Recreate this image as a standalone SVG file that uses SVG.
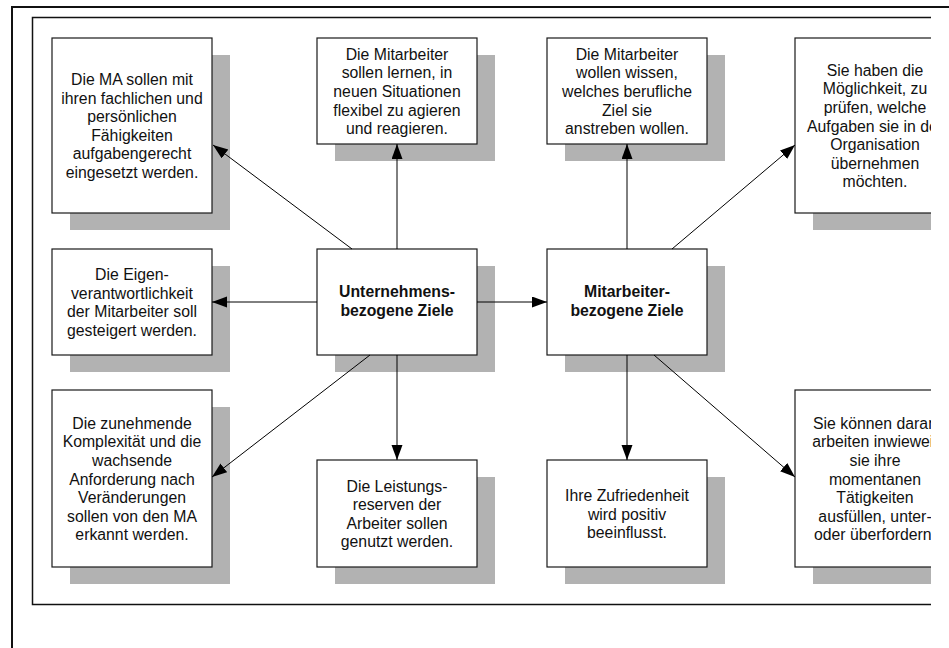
<svg xmlns="http://www.w3.org/2000/svg" width="949" height="648" viewBox="0 0 949 648">
<style>
.box{fill:#ffffff;stroke:#1a1a1a;stroke-width:1.2}
.sh{fill:#b2b2b2}
.t{font-family:"Liberation Sans",Arial,sans-serif;font-size:15.8px;fill:#111;text-anchor:middle}
.b{font-weight:bold}
.c{stroke:#000;stroke-width:1;fill:none;marker-end:url(#ah)}
</style>
<defs>
<marker id="ah" markerWidth="16" markerHeight="12" refX="15" refY="5.5" orient="auto" markerUnits="userSpaceOnUse">
<path d="M0,0 L15,5.5 L0,11 Z" fill="#000"/>
</marker>
<clipPath id="cp"><rect x="0" y="0" width="931" height="648"/></clipPath>
</defs>
<rect width="949" height="648" fill="#ffffff"/>
<line x1="11" y1="7" x2="949" y2="7" stroke="#111" stroke-width="2"/>
<line x1="12" y1="6" x2="12" y2="648" stroke="#111" stroke-width="2"/>
<g clip-path="url(#cp)">
<rect x="32.5" y="17.5" width="920" height="587" fill="none" stroke="#111" stroke-width="1.5"/>
<g id="n1">
<rect class="sh" x="70" y="55" width="160" height="175"/>
<rect class="box" x="52" y="38" width="160" height="175"/>
<text class="t"><tspan x="132" y="85">Die MA sollen mit</tspan><tspan x="132" y="103.6">ihren fachlichen und</tspan><tspan x="132" y="122.2">persönlichen</tspan><tspan x="132" y="140.8">Fähigkeiten</tspan><tspan x="132" y="159.4">aufgabengerecht</tspan><tspan x="132" y="178">eingesetzt werden.</tspan></text>
</g>
<g id="n2">
<rect class="sh" x="335" y="55" width="160" height="106"/>
<rect class="box" x="317" y="38" width="160" height="106"/>
<text class="t"><tspan x="397" y="59.8">Die Mitarbeiter</tspan><tspan x="397" y="78.4">sollen lernen, in</tspan><tspan x="397" y="97">neuen Situationen</tspan><tspan x="397" y="115.6">flexibel zu agieren</tspan><tspan x="397" y="134.2">und reagieren.</tspan></text>
</g>
<g id="n3">
<rect class="sh" x="565" y="55" width="160" height="106"/>
<rect class="box" x="547" y="38" width="160" height="106"/>
<text class="t"><tspan x="627" y="59.8">Die Mitarbeiter</tspan><tspan x="627" y="78.4">wollen wissen,</tspan><tspan x="627" y="97">welches berufliche</tspan><tspan x="627" y="115.6">Ziel sie</tspan><tspan x="627" y="134.2">anstreben wollen.</tspan></text>
</g>
<g id="n4">
<rect class="sh" x="813" y="55" width="160" height="175"/>
<rect class="box" x="795" y="38" width="160" height="175"/>
<text class="t"><tspan x="875" y="75.7">Sie haben die</tspan><tspan x="875" y="94.3">Möglichkeit, zu</tspan><tspan x="875" y="112.9">prüfen, welche</tspan><tspan x="875" y="131.5">Aufgaben sie in der</tspan><tspan x="875" y="150.1">Organisation</tspan><tspan x="875" y="168.7">übernehmen</tspan><tspan x="875" y="187.3">möchten.</tspan></text>
</g>
<g id="n5">
<rect class="sh" x="70" y="266" width="160" height="106"/>
<rect class="box" x="52" y="249" width="160" height="106"/>
<text class="t"><tspan x="132" y="280.1">Die Eigen-</tspan><tspan x="132" y="298.7">verantwortlichkeit</tspan><tspan x="132" y="317.3">der Mitarbeiter soll</tspan><tspan x="132" y="335.9">gesteigert werden.</tspan></text>
</g>
<g id="n6">
<rect class="sh" x="335" y="266" width="160" height="106"/>
<rect class="box" x="317" y="249" width="160" height="106"/>
<text class="t b"><tspan x="397" y="297.2">Unternehmens-</tspan><tspan x="397" y="315.8">bezogene Ziele</tspan></text>
</g>
<g id="n7">
<rect class="sh" x="565" y="266" width="160" height="106"/>
<rect class="box" x="547" y="249" width="160" height="106"/>
<text class="t b"><tspan x="627" y="297.2">Mitarbeiter-</tspan><tspan x="627" y="315.8">bezogene Ziele</tspan></text>
</g>
<g id="n8">
<rect class="sh" x="70" y="407" width="160" height="177"/>
<rect class="box" x="52" y="390" width="160" height="177"/>
<text class="t"><tspan x="132" y="428.7">Die zunehmende</tspan><tspan x="132" y="447.3">Komplexität und die</tspan><tspan x="132" y="465.9">wachsende</tspan><tspan x="132" y="484.5">Anforderung nach</tspan><tspan x="132" y="503.1">Veränderungen</tspan><tspan x="132" y="521.7">sollen von den MA</tspan><tspan x="132" y="540.3">erkannt werden.</tspan></text>
</g>
<g id="n9">
<rect class="sh" x="335" y="477" width="160" height="107"/>
<rect class="box" x="317" y="460" width="160" height="107"/>
<text class="t"><tspan x="397" y="491.6">Die Leistungs-</tspan><tspan x="397" y="510.2">reserven der</tspan><tspan x="397" y="528.8">Arbeiter sollen</tspan><tspan x="397" y="547.4">genutzt werden.</tspan></text>
</g>
<g id="n10">
<rect class="sh" x="565" y="477" width="160" height="107"/>
<rect class="box" x="547" y="460" width="160" height="107"/>
<text class="t"><tspan x="627" y="500.9">Ihre Zufriedenheit</tspan><tspan x="627" y="519.5">wird positiv</tspan><tspan x="627" y="538.1">beeinflusst.</tspan></text>
</g>
<g id="n11">
<rect class="sh" x="813" y="407" width="160" height="177"/>
<rect class="box" x="795" y="390" width="160" height="177"/>
<text class="t"><tspan x="875" y="428.7">Sie können daran</tspan><tspan x="875" y="447.3">arbeiten inwieweit</tspan><tspan x="875" y="465.9">sie ihre</tspan><tspan x="875" y="484.5">momentanen</tspan><tspan x="875" y="503.1">Tätigkeiten</tspan><tspan x="875" y="521.7">ausfüllen, unter-</tspan><tspan x="875" y="540.3">oder überfordern.</tspan></text>
</g>
<g id="connectors">
<line class="c" x1="352" y1="249" x2="213" y2="145"/>
<line class="c" x1="397" y1="249" x2="397" y2="144"/>
<line class="c" x1="317" y1="302" x2="212" y2="302"/>
<line class="c" x1="370" y1="355" x2="212" y2="477"/>
<line class="c" x1="397" y1="355" x2="397" y2="460"/>
<line class="c" x1="477" y1="302" x2="547" y2="302"/>
<line class="c" x1="627" y1="249" x2="627" y2="144"/>
<line class="c" x1="672" y1="249" x2="795" y2="145"/>
<line class="c" x1="627" y1="355" x2="627" y2="460"/>
<line class="c" x1="654" y1="355" x2="795" y2="477"/>
</g>
</g>
</svg>
